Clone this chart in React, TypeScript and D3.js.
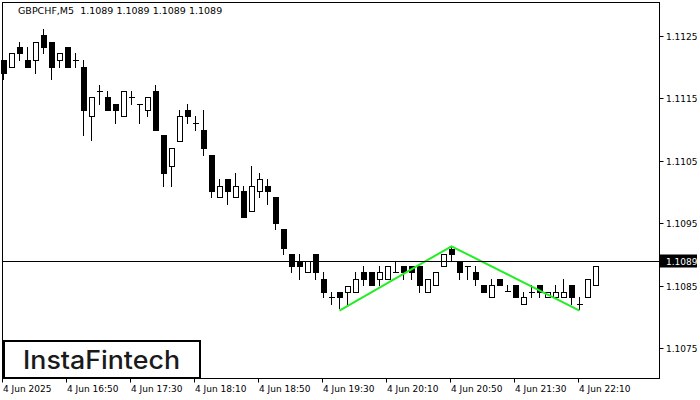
import React from "react";
import * as d3 from "d3";

const symbolTitle = "GBPCHF,M5  1.1089 1.1089 1.1089 1.1089";
const currentPrice = 1.1089;

const opens = [1.11212,1.11201,1.11232,1.11212,1.11212,1.11252,1.11241,1.11212,1.11232,1.11212,1.11201,1.11121,1.11162,1.11152,1.11141,1.11121,1.11152,1.11141,1.11131,1.11162,1.11091,1.11041,1.11081,1.11131,1.11111,1.11100,1.11060,1.10992,1.11021,1.10992,1.11001,1.10970,1.11001,1.11010,1.10992,1.10940,1.10900,1.10890,1.10871,1.10900,1.10860,1.10831,1.10840,1.10840,1.10840,1.10871,1.10871,1.10860,1.10860,1.10871,1.10881,1.10881,1.10881,1.10840,1.10851,1.10881,1.10908,1.10890,1.10881,1.10871,1.10851,1.10831,1.10860,1.10841,1.10851,1.10820,1.10840,1.10851,1.10831,1.10831,1.10831,1.10851,1.10820,1.10831,1.10851];
const highs = [1.11212,1.11222,1.11241,1.11232,1.11241,1.11262,1.11241,1.11222,1.11232,1.11222,1.11212,1.11152,1.11171,1.11162,1.11141,1.11162,1.11162,1.11141,1.11152,1.11171,1.11091,1.11071,1.11131,1.11141,1.11121,1.11131,1.11060,1.11021,1.11021,1.11031,1.11010,1.11042,1.11031,1.11021,1.10992,1.10940,1.10900,1.10900,1.10890,1.10900,1.10871,1.10840,1.10840,1.10850,1.10871,1.10881,1.10871,1.10881,1.10881,1.10890,1.10881,1.10881,1.10881,1.10860,1.10871,1.10900,1.10912,1.10890,1.10881,1.10881,1.10851,1.10860,1.10860,1.10851,1.10851,1.10840,1.10851,1.10851,1.10840,1.10851,1.10860,1.10851,1.10831,1.10860,1.10881];
const lows = [1.11181,1.11201,1.11212,1.11201,1.11191,1.11222,1.11181,1.11201,1.11201,1.11201,1.11091,1.11083,1.11141,1.11131,1.11111,1.11121,1.11141,1.11111,1.11121,1.11100,1.11010,1.11010,1.11081,1.11111,1.11100,1.11060,1.10992,1.10992,1.10980,1.10992,1.10960,1.10970,1.10992,1.10980,1.10940,1.10900,1.10871,1.10860,1.10871,1.10860,1.10831,1.10820,1.10814,1.10820,1.10840,1.10851,1.10851,1.10851,1.10860,1.10871,1.10860,1.10860,1.10840,1.10840,1.10851,1.10881,1.10890,1.10860,1.10860,1.10851,1.10840,1.10831,1.10851,1.10841,1.10831,1.10820,1.10831,1.10831,1.10831,1.10831,1.10831,1.10820,1.10813,1.10831,1.10851];
const closes = [1.11191,1.11222,1.11222,1.11201,1.11241,1.11232,1.11201,1.11222,1.11201,1.11212,1.11131,1.11152,1.11162,1.11131,1.11131,1.11162,1.11152,1.11141,1.11152,1.11100,1.11031,1.11071,1.11121,1.11121,1.11111,1.11071,1.11001,1.11010,1.11001,1.11010,1.10960,1.11010,1.11021,1.11001,1.10951,1.10911,1.10881,1.10881,1.10890,1.10871,1.10840,1.10831,1.10831,1.10850,1.10861,1.10860,1.10851,1.10871,1.10881,1.10871,1.10871,1.10871,1.10851,1.10860,1.10871,1.10900,1.10900,1.10871,1.10881,1.10860,1.10840,1.10851,1.10851,1.10841,1.10831,1.10831,1.10840,1.10840,1.10840,1.10840,1.10840,1.10831,1.10820,1.10860,1.10881];

const timeLabels = ["4 Jun 2025","4 Jun 16:50","4 Jun 17:30","4 Jun 18:10","4 Jun 18:50","4 Jun 19:30","4 Jun 20:10","4 Jun 20:50","4 Jun 21:30","4 Jun 22:10"];
const timeLabelIdx = [0,8,16,24,32,40,48,56,64,72];
const priceTicks = [1.1125,1.1115,1.1105,1.1095,1.1085,1.1075];

const patternIdx = [42,56,72];
const patternPrice = [1.1081,1.10913,1.1081];

const W = 700, H = 400;
const plotL = 2.5, plotR = 659.5, plotT = 2.5, plotB = 378.5;

export default function App() {
  const x = d3.scaleLinear().domain([0, 74]).range([3.5, 595.5]);
  const y = d3.scaleLinear().domain([1.1075, 1.1125]).range([348, 36]);
  const ry = (p: number) => Math.round(y(p));
  const font = "Tahoma, 'DejaVu Sans', 'Liberation Sans', sans-serif";
  const line = d3.line<number>().x((d, i) => x(patternIdx[i])).y((d) => y(d));
  const cy = Math.round(y(currentPrice)) + 0.5;

  return (
    <svg width={W} height={H} style={{ position: "absolute", left: 0, top: 0, background: "#fff" }}>
      <rect x={0} y={0} width={W} height={H} fill="#fff" />
      {opens.map((o, i) => {
        const c = closes[i];
        const xl = Math.floor(x(i)) + 0.5;
        const yh = ry(highs[i]);
        const yl = ry(lows[i]);
        const yo = ry(o);
        const yc = ry(c);
        const top = Math.min(yo, yc);
        const bot = Math.max(yo, yc);
        const bull = c > o;
        return (
          <g key={i}>
            <line x1={xl} x2={xl} y1={yh} y2={yl + 1} stroke="#000" strokeWidth={1} />
            {bot - top < 1 ? (
              <line x1={xl - 2.5} x2={xl + 3.5} y1={top + 0.5} y2={top + 0.5} stroke="#000" strokeWidth={1} />
            ) : bull ? (
              <rect x={xl - 2} y={top + 0.5} width={5} height={bot - top} fill="#fff" stroke="#000" strokeWidth={1} />
            ) : (
              <rect x={xl - 2.5} y={top} width={6} height={bot - top + 1} fill="#000" />
            )}
          </g>
        );
      })}
      <path d={line(patternPrice) || ""} fill="none" stroke="#22ee22" strokeWidth={2} />
      <line x1={plotL} x2={plotR} y1={cy} y2={cy} stroke="#000" strokeWidth={1} />
      <rect x={plotL} y={plotT} width={plotR - plotL} height={plotB - plotT} fill="none" stroke="#000" strokeWidth={1} />
      {priceTicks.map((p) => {
        const ty = Math.round(y(p)) + 0.5;
        return (
          <g key={p}>
            <line x1={plotR} x2={plotR + 4} y1={ty} y2={ty} stroke="#000" />
            <text x={666} y={ty} dy="0.35em" fontSize={9} fontFamily={font} fill="#000">{p.toFixed(4)}</text>
          </g>
        );
      })}
      <rect x={660} y={cy - 7} width={37} height={13} fill="#000" />
      <text x={666} y={cy} dy="0.35em" fontSize={9} fontFamily={font} fill="#fff">{currentPrice.toFixed(4)}</text>
      {timeLabels.map((t, k) => {
        const tx = Math.floor(x(timeLabelIdx[k])) - 0.5;
        return (
          <g key={t}>
            <line x1={tx} x2={tx} y1={plotB} y2={plotB + 4} stroke="#000" />
            <text x={tx + 0.5} y={392} fontSize={9} fontFamily={font} fill="#000">{t}</text>
          </g>
        );
      })}
      <text x={18} y={14} fontSize={9.5} fontFamily={font} fill="#000" style={{ whiteSpace: "pre" }}>{symbolTitle}</text>
      <rect x={4} y={341} width={196} height={37} fill="#fff" stroke="#000" strokeWidth={2} />
      <text x={23} y={369} fontSize={25} fontFamily="Inter, 'Open Sans', sans-serif" fontWeight={500} fill="#1a1a1a" textLength={157} lengthAdjust="spacingAndGlyphs">InstaFintech</text>
    </svg>
  );
}
